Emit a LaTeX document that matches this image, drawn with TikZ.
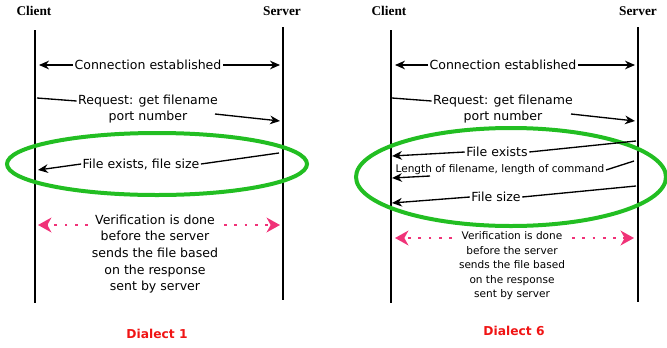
\documentclass[tikz,border=0pt]{standalone}
\usepackage{fontspec}
\setmainfont{DejaVu Sans}
\newfontfamily\headfont{Liberation Serif}
\usetikzlibrary{arrows.meta,positioning}
\definecolor{ovalgreen}{RGB}{34,190,34}
\definecolor{verpink}{RGB}{240,50,120}
\definecolor{dialred}{RGB}{240,20,20}
\newcommand{\msgfont}{\fontsize{9.4}{12.5}\selectfont}
\newcommand{\smallfont}{\fontsize{7.9}{10.9}\selectfont}

\begin{document}
\begin{tikzpicture}[x=0.75pt,y=-0.75pt,
  head/.style={font=\headfont\bfseries\fontsize{10}{12}\selectfont},
  life/.style={line width=1.5pt},
  msg/.style={font=\msgfont,inner sep=1pt},
  arr/.style={line width=1pt,-{Stealth[length=7.5pt,width=6.5pt]}},
  oval/.style={ovalgreen,line width=3pt},
  ver/.style={verpink,line width=2.2pt,dash pattern=on 2.2pt off 5.5pt,
    -{Stealth[length=10pt,width=11pt,inset=3pt]}},
  dial/.style={dialred,font=\bfseries\fontsize{9.2}{11}\selectfont}]
 \useasboundingbox (0,0) rectangle (667,347);

 % Dialect 1
 \node[head] (client1) at (34,11) {Client};
 \node[head] (server1) at (282,11) {Server};
 \draw[life] (35,30) -- (35,303);
 \draw[life] (283,27) -- (283,300);

 \node[msg] (conn1) at (148,65) {Connection established};
 \coordinate (conn1l) at (39,65);
 \coordinate (conn1r) at (280,65);
 \draw[arr] (conn1.west) -- (conn1l);
 \draw[arr] (conn1.east) -- (conn1r);

 \node[msg] (req1) at (148,101) {Request: get filename};
 \node[msg] (port1) at (148,117) {port number};
 \coordinate (req1s) at (37,98);
 \coordinate (port1s) at (215,114);
 \coordinate (port1e) at (280,121);
 \draw[line width=1pt] (req1s) -- (req1.west);
 \draw[arr] (port1s) -- (port1e);

 \draw[oval] (157,164) ellipse [x radius=112.5pt, y radius=23.25pt];
 \node[msg] (exist1) at (141,164) {File exists, file size};
 \coordinate (exist1s) at (279,153);
 \coordinate (exist1e) at (38,170);
 \draw[line width=1pt] (exist1s) -- (exist1.east);
 \draw[arr] (exist1.west) -- (exist1e);

 \node[msg,align=center] (verif1) at (155,254)
   {Verification is done\\before the server\\sends the file based\\on the response\\sent by server};
 \coordinate (ver1a) at (88,225);
 \coordinate (ver1l) at (38,225);
 \coordinate (ver1b) at (224,225);
 \coordinate (ver1r) at (280,225);
 \draw[ver] (ver1a) -- (ver1l);
 \draw[ver] (ver1b) -- (ver1r);

 \node[dial] (dial1) at (157,334) {Dialect 1};

 % Dialect 6
 \node[head] (client6) at (389,11) {Client};
 \node[head] (server6) at (638,11) {Server};
 \draw[life] (391,30) -- (391,303);
 \draw[life] (638,27) -- (638,302);

 \node[msg] (conn6) at (503,65) {Connection established};
 \coordinate (conn6l) at (395,65);
 \coordinate (conn6r) at (635,65);
 \draw[arr] (conn6.west) -- (conn6l);
 \draw[arr] (conn6.east) -- (conn6r);

 \node[msg] (req6) at (503,101) {Request: get filename};
 \node[msg] (port6) at (503,117) {port number};
 \coordinate (req6s) at (392,98);
 \coordinate (port6s) at (571,114);
 \coordinate (port6e) at (635,121);
 \draw[line width=1pt] (req6s) -- (req6.west);
 \draw[arr] (port6s) -- (port6e);

 \draw[oval] (511,177) ellipse [x radius=116.25pt, y radius=36.75pt];
 \node[msg] (exist6) at (497,152) {File exists};
 \coordinate (exist6s) at (636,141);
 \coordinate (exist6e) at (392,156);
 \draw[line width=1pt] (exist6s) -- (exist6.east);
 \draw[arr] (exist6.west) -- (exist6e);

 \node[msg,font=\smallfont] (len6) at (500,170) {Length of filename, length of command};
 \coordinate (len6s) at (634,161);
 \coordinate (len6a) at (430,176);
 \coordinate (len6e) at (392,178);
 \draw[line width=1pt] (len6s) -- (len6.east);
 \draw[arr] (len6a) -- (len6e);

 \node[msg] (size6) at (496,197) {File size};
 \coordinate (size6s) at (636,186);
 \coordinate (size6e) at (392,203);
 \draw[line width=1pt] (size6s) -- (size6.east);
 \draw[arr] (size6.west) -- (size6e);

 \node[msg,font=\smallfont,align=center] (verif6) at (512,266)
   {Verification is done\\before the server\\sends the file based\\on the response\\sent by server};
 \coordinate (ver6a) at (452,238);
 \coordinate (ver6l) at (395,238);
 \coordinate (ver6b) at (572,238);
 \coordinate (ver6r) at (634,238);
 \draw[ver] (ver6a) -- (ver6l);
 \draw[ver] (ver6b) -- (ver6r);

 \node[dial] (dial6) at (514,331) {Dialect 6};

\end{tikzpicture}
\end{document}
